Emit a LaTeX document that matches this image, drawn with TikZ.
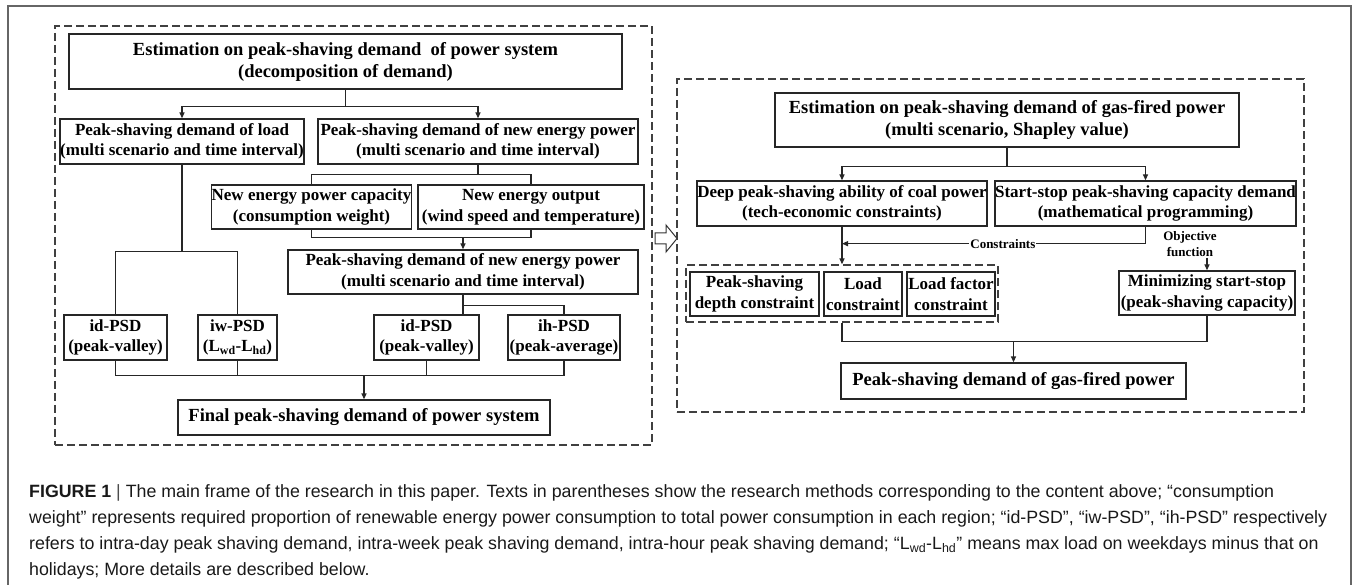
\documentclass[tikz,border=0pt]{standalone}
\usepackage{fontspec}
\setmainfont{Liberation Serif}
\newfontfamily\capfamily{Liberation Sans}
\usetikzlibrary{arrows.meta}
\newcommand{\bxfont}{\fontsize{17}{20.5}\selectfont\bfseries}
\newcommand{\ttlfont}{\fontsize{18.5}{22}\selectfont\bfseries}
\newcommand{\lbfont}{\fontsize{13}{15.5}\selectfont\bfseries}
\newcommand{\cpfont}{\capfamily\fontsize{17.8}{21}\selectfont}
\begin{document}
\begin{tikzpicture}[x=1pt,y=-1pt,
  box/.style={draw=black!85, line width=1.3pt, inner sep=0pt, align=center, font=\bxfont},
  tbox/.style={box, font=\ttlfont},
  grp/.style={draw=black!75, line width=1.3pt, dash pattern=on 8pt off 4pt},
  ln/.style={draw=black!85, line width=1.3pt},
  arr/.style={ln, -{Triangle[length=6pt,width=5pt]}},
  lbl/.style={font=\lbfont, inner sep=1pt, fill=white, align=center},
  captxt/.style={anchor=west, inner sep=0pt, font=\cpfont, text=black!90}
]
\useasboundingbox (0,0) rectangle (1354,585);
% outer frame
\draw[draw=black!60, line width=1.2pt] (8,585) -- (8,6) -- (1351,6) -- (1351,585);

% ---------- left panel ----------
\node[grp, minimum width=597pt, minimum height=419pt] (LP) at (353.5,235.5) {};
\node[tbox, minimum width=553pt, minimum height=55pt] (T) at (345.5,61.5) {Estimation on peak-shaving demand\ \ of power system\\(decomposition of demand)};
\node[box, minimum width=244pt, minimum height=45pt] (L1) at (182,141.5) {Peak-shaving demand of load\\(multi scenario and time interval)};
\node[box, minimum width=320pt, minimum height=45pt] (N1) at (478,141.5) {Peak-shaving demand of new energy power\\(multi scenario and time interval)};
\node[box, minimum width=199pt, minimum height=44pt] (C1) at (311.5,207) {New energy power capacity\\(consumption weight)};
\node[box, minimum width=226pt, minimum height=44pt] (C2) at (531,207) {New energy output\\(wind speed and temperature)};
\node[box, minimum width=350pt, minimum height=44pt] (N2) at (463,272) {Peak-shaving demand of new energy power\\(multi scenario and time interval)};
\node[box, minimum width=103pt, minimum height=45pt] (B1) at (115.5,337.5) {id-PSD\\(peak-valley)};
\node[box, minimum width=79pt, minimum height=45pt] (B2) at (237.5,337.5) {iw-PSD\\(L\textsubscript{wd}-L\textsubscript{hd})};
\node[box, minimum width=105pt, minimum height=45pt] (B3) at (426.5,337.5) {id-PSD\\(peak-valley)};
\node[box, minimum width=112pt, minimum height=45pt] (B4) at (564,337.5) {ih-PSD\\(peak-average)};
\node[tbox, minimum width=372pt, minimum height=35pt] (F) at (364,417.5) {Final peak-shaving demand of power system};

\path (T.south) ++(0,17) coordinate (jT);
\draw[ln] (T.south) -- (jT);
\draw[arr] (jT) -| (L1.north);
\draw[arr] (jT) -| (N1.north);
\path (L1.south) ++(0,87) coordinate (jL);
\draw[ln] (L1.south) -- (jL) -| (B1.north);
\draw[ln] (jL) -| (B2.north);
\path (N1.south) ++(0,10) coordinate (jN);
\draw[ln] (N1.south) -- (jN) -| (C1.north);
\draw[ln] (jN) -| (C2.north);
\path (C1.south) ++(0,8) coordinate (jC);
\draw[ln] (C1.south) -- (jC) -| (C2.south);
\draw[arr] (jC -| N2.north) -- (N2.north);
\draw[ln] (N2.south) -- (N2.south |- B3.north);
\path (N2.south) ++(0,11) coordinate (jN2);
\draw[ln] (jN2) -| (B4.north);
\path (B1.south) ++(0,15) coordinate (jB);
\draw[ln] (B1.south) -- (jB) -| (B4.south);
\draw[ln] (B2.south) -- (B2.south |- jB);
\draw[ln] (B3.south) -- (B3.south |- jB);
\draw[arr] (jB -| F.north) -- (F.north);

% hollow arrow
\draw[line width=1pt, draw=black!80, fill=white] (655,233) -- (666,233) -- (666,225) -- (677,238.5) -- (666,252) -- (666,244) -- (655,244) -- cycle;

% ---------- right panel ----------
\node[grp, minimum width=627pt, minimum height=333pt] (RP) at (990.5,245.5) {};
\node[tbox, minimum width=464pt, minimum height=54pt] (RT) at (1007,120) {Estimation on peak-shaving demand of gas-fired power\\(multi scenario, Shapley value)};
\node[box, minimum width=290pt, minimum height=45pt] (D) at (842,203.5) {Deep peak-shaving ability of coal power\\(tech-economic constraints)};
\node[box, minimum width=297pt, minimum height=45pt] (S) at (1145.5,203.5) {Start-stop peak-shaving capacity demand\\(mathematical programming)};
\node[grp, minimum width=312pt, minimum height=57pt] (G0) at (842,293.5) {};
\node[box, minimum width=129pt, minimum height=44pt] (P1) at (754.5,294) {Peak-shaving\\depth constraint};
\node[box, minimum width=78pt, minimum height=44pt] (P2) at (863,294) {Load\\constraint};
\node[box, minimum width=88pt, minimum height=44pt] (P3) at (951,294) {Load factor\\constraint};
\node[box, minimum width=176pt, minimum height=44pt] (M) at (1207,293) {Minimizing start-stop\\(peak-shaving capacity)};
\node[tbox, minimum width=345pt, minimum height=36pt] (GF) at (1013.5,381) {Peak-shaving demand of gas-fired power};
\node[lbl, fill=none] (OF) at (1190,244) {Objective\\function};

\path (RT.south) ++(0,19) coordinate (jR);
\draw[ln] (RT.south) -- (jR);
\draw[arr] (jR) -| (D.north);
\draw[arr] (jR) -| (S.north);
\path (S.south) ++(0,17) coordinate (jS);
\draw[ln] (S.south) -- (jS);
\draw[arr] (jS) -- (jS -| D.south) node[lbl, pos=0.47] {Constraints};
\draw[arr] (D.south) -- (G0.north);
\draw[arr] (OF.south -| M.north) -- (M.north);
\path (G0.south) ++(0,19) coordinate (jG);
\draw[ln] (G0.south) -- (jG) -| (M.south);
\draw[arr] (jG -| GF.north) -- (GF.north);

% ---------- caption ----------
\node[captxt] (cap1) at (29,493) {\textbf{FIGURE 1} \textcolor{black!70}{|} The main frame of the research in this paper. Texts in parentheses show the research methods corresponding to the content above; “consumption};
\node[captxt] (cap2) at (29,519) {weight” represents required proportion of renewable energy power consumption to total power consumption in each region; “id-PSD”, “iw-PSD”, “ih-PSD” respectively};
\node[captxt] (cap3) at (29,545) {refers to intra-day peak shaving demand, intra-week peak shaving demand, intra-hour peak shaving demand; “L\textsubscript{wd}-L\textsubscript{hd}” means max load on weekdays minus that on};
\node[captxt] (cap4) at (29,571) {holidays; More details are described below.};
\end{tikzpicture}
\end{document}
